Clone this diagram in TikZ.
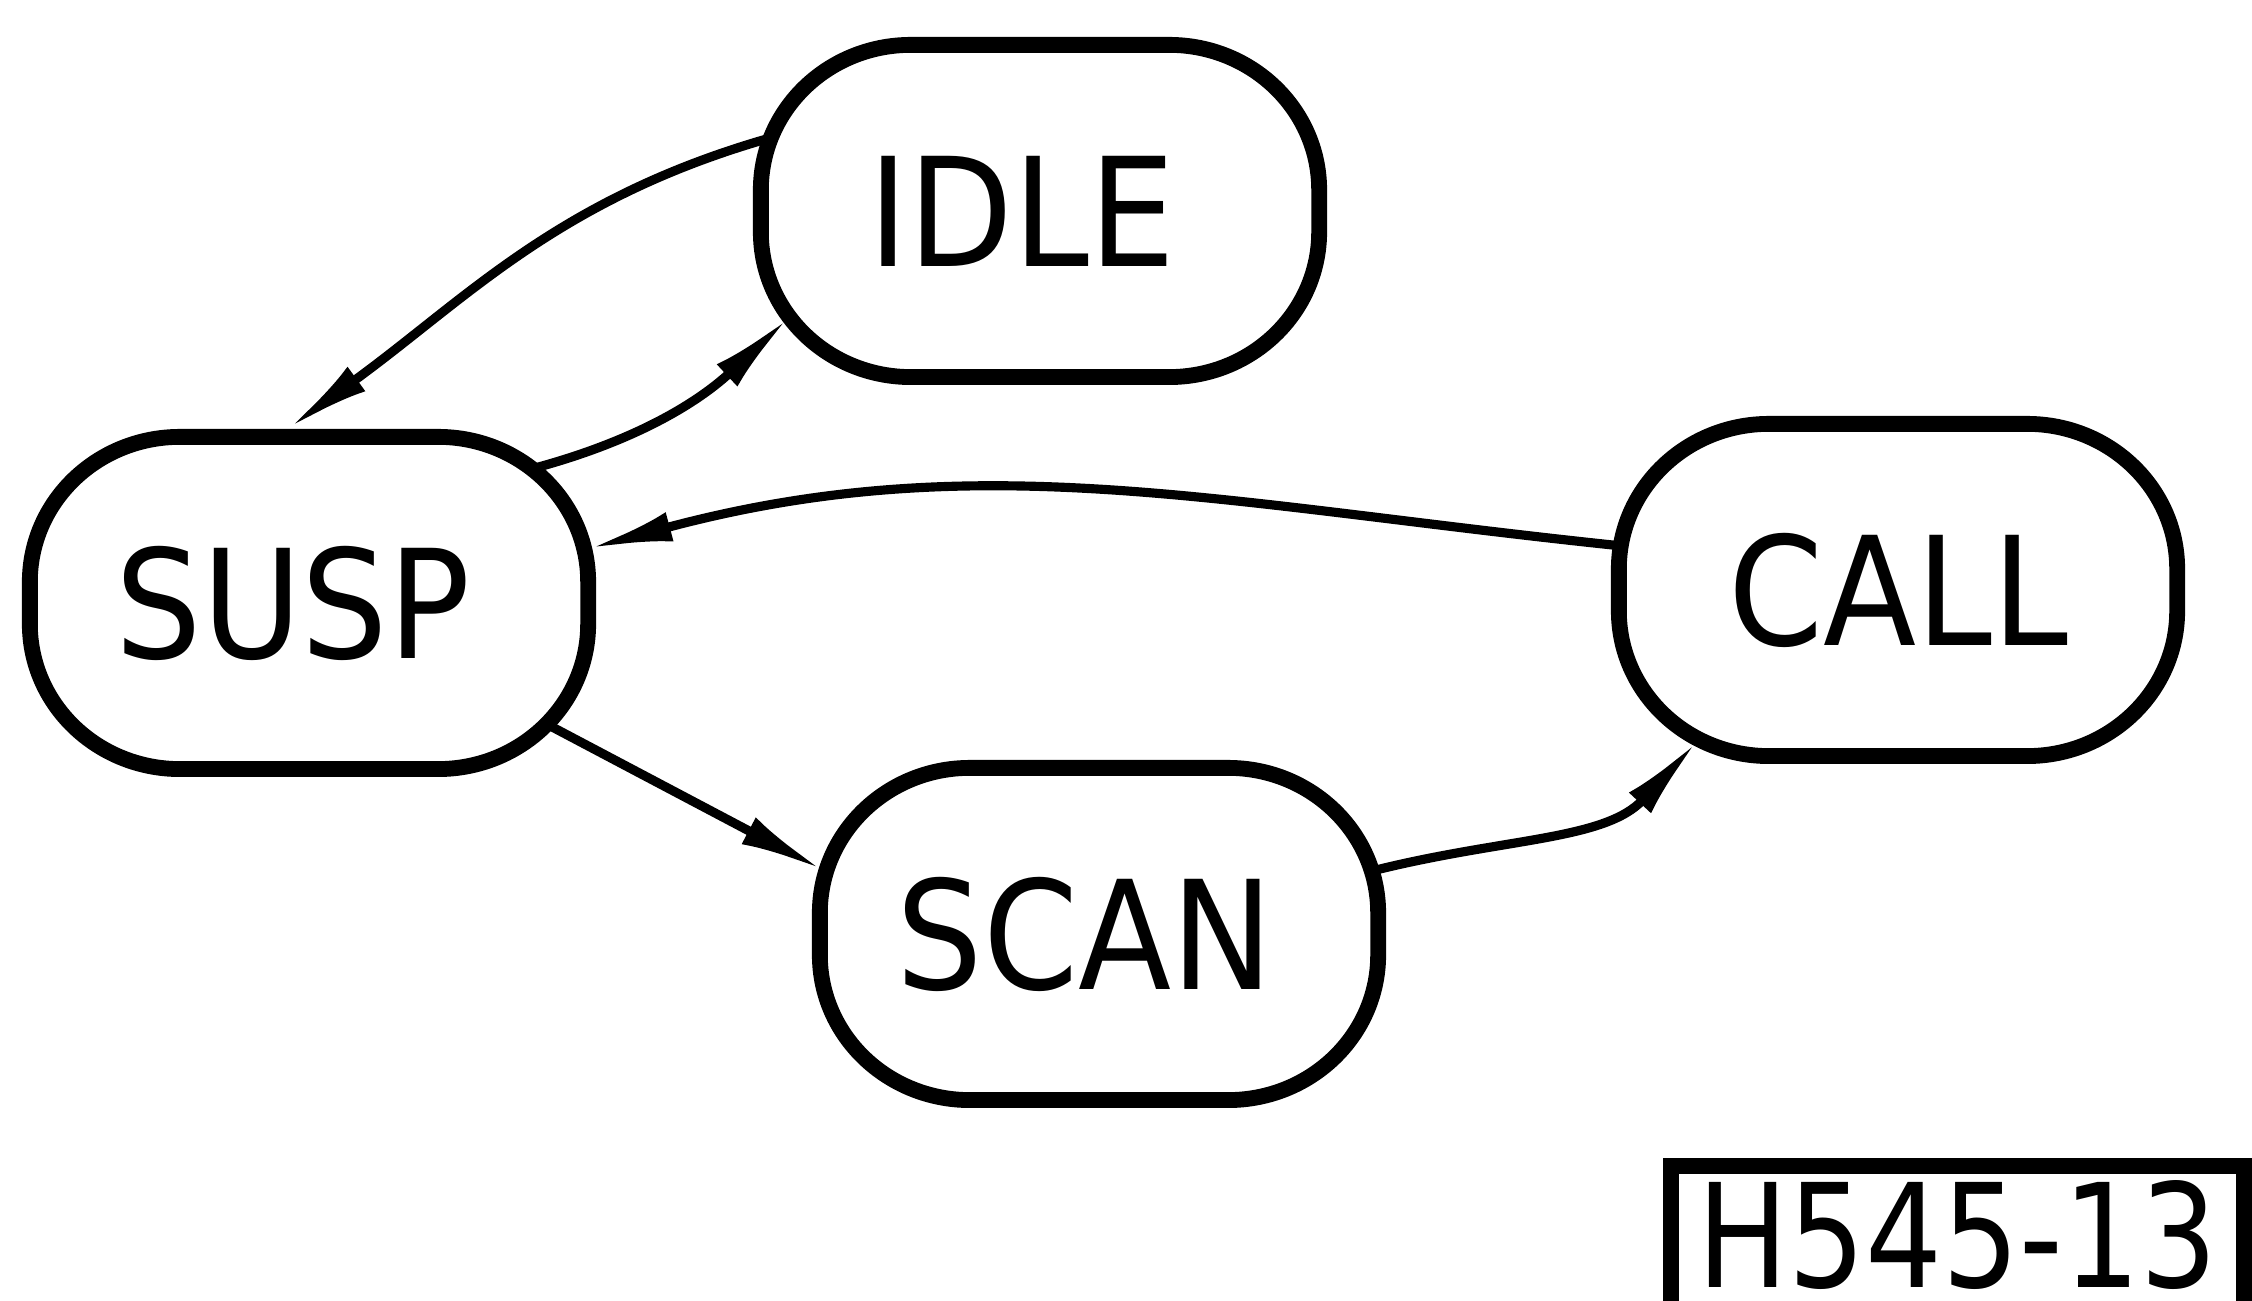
\documentclass[tikz,border=0pt]{standalone}
\usepackage{fontspec}
\newfontfamily\statefont{DejaVu Sans}[FakeStretch=0.9]
\newfontfamily\tagfont{DejaVu Sans}[FakeStretch=0.84]
\usetikzlibrary{shapes.misc,arrows.meta}
% outline of a state: flat top/bottom, large elliptical corners
\newcommand\stateoutline[1]{%
  \begin{scope}[shift={(#1.center)}]
  \draw[line width=4.5pt, line join=round]
    (-1.29cm,1.66cm) -- (1.29cm,1.66cm)
    arc[start angle=90, end angle=0, x radius=1.5cm, y radius=1.45cm]
    -- (2.79cm,-0.21cm)
    arc[start angle=0, end angle=-90, x radius=1.5cm, y radius=1.45cm]
    -- (-1.29cm,-1.66cm)
    arc[start angle=270, end angle=180, x radius=1.5cm, y radius=1.45cm]
    -- (-2.79cm,0.21cm)
    arc[start angle=180, end angle=90, x radius=1.5cm, y radius=1.45cm]
    -- cycle;
  \end{scope}}
\begin{document}
\begin{tikzpicture}[x=0.01cm,y=0.01cm,
  state/.style={rounded rectangle, minimum width=5.58cm, minimum height=3.32cm,
    inner sep=0pt, outer sep=2.25pt,
    font=\statefont\fontsize{43}{43}\selectfont},
  trans/.style={line width=2.6pt, -{Latex[length=0.85cm,width=0.3cm]}},
  tagbox/.style={draw, line width=4.5pt, anchor=north west, minimum width=5.73cm,
    text height=1.22cm, text depth=0.5cm, inner sep=0pt,
    font=\tagfont\fontsize{41}{41}\selectfont}]
\useasboundingbox (0,0) rectangle (2252,1301);
\clip (0,0) rectangle (2252,1301);
\node[state] (idle) at (1040,1090) {\hspace*{-0.36cm}IDLE};
\node[state] (susp) at (309,698) {\hspace*{-0.32cm}SUSP};
\node[state] (scan) at (1099,367) {\hspace*{-0.28cm}SCAN};
\node[state] (call) at (1898,711) {CALL};
\stateoutline{idle}
\stateoutline{susp}
\stateoutline{scan}
\stateoutline{call}
\node[tagbox] (tag) at (1663,143) {H545-13};
\draw[trans] (idle.165) to[out=196,in=36] (susp.97);
\draw[trans] (susp.31) to[out=15,in=223] (idle.203);
\draw[trans] (call.171) to[out=174,in=15] (susp.11);
\draw[trans] (susp.-27) -- (scan.167);
\draw[trans] (scan.13) to[out=14,in=227] (call.217);
\end{tikzpicture}
\end{document}
